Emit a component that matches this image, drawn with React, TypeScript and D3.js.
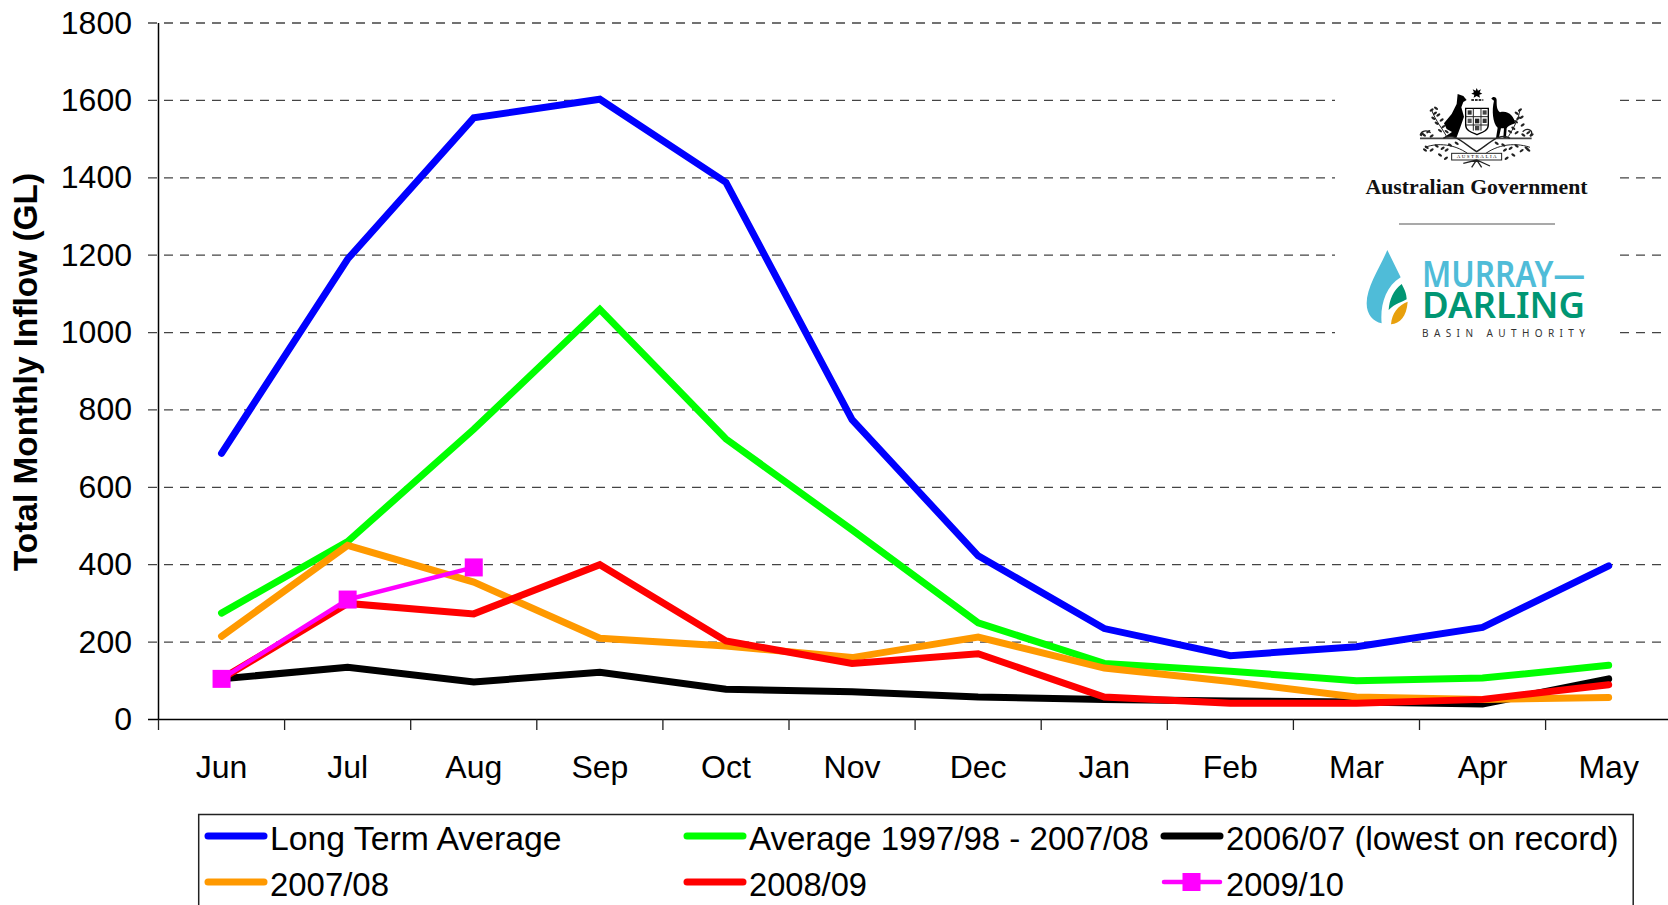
import React from 'react';
import * as d3 from 'd3';

const months = ['Jun','Jul','Aug','Sep','Oct','Nov','Dec','Jan','Feb','Mar','Apr','May'];
const yTicks = [0,200,400,600,800,1000,1200,1400,1600,1800];
const longTerm = [688,1190,1555,1603,1388,775,423,235,165,188,238,397];
const avg9708 = [275,460,750,1060,725,490,250,145,125,100,107,140];
const y0607 = [105,135,97,122,78,72,58,52,48,45,40,105];
const y0708 = [215,450,355,210,190,160,213,133,98,58,52,57];
const y0809 = [105,300,273,400,203,145,170,58,42,42,52,90];
const y0910 = [105,310,393];

const BLUE='#0000ff', GREEN='#00ff00', BLACK='#000000', ORANGE='#ff9900', RED='#ff0000', MAGENTA='#ff00ff';
const FONT = '"Liberation Sans", Arial, sans-serif';

const leavesLeft = [[395,150],[408,145],[415,165],[400,175],[425,180],[410,190],[430,200],[420,212],[385,215],[372,225],[395,228],[380,262],[395,270],[410,258],[428,265],[420,285],[438,295],[450,255],[405,160],[440,215],[365,222],[375,270],[440,270],[470,250]];
const leavesRight = [[660,150],[650,160],[665,172],[648,185],[668,195],[640,205],[685,218],[670,225],[650,218],[680,265],[665,272],[650,258],[632,265],[640,285],[620,295],[610,255],[655,175],[630,215],[695,225],[685,270],[615,270],[590,250]];

function Crest() {
  return (
    <g transform="translate(1300,60) scale(0.3333)">
      <path d="M530,84 L534,92 L543,88 L539,97 L547,101 L538,104 L540,113 L530,108 L521,113 L523,104 L514,101 L522,97 L518,88 L527,92 Z" fill="#000" />
      <path d="M514,120 H550" stroke="#333" strokeWidth={6} strokeDasharray="8 3" />
      <path d="M473,102 L490,108 L500,120 L490,126 L484,142 L492,170 L480,205 L470,232 L430,233 L456,216 L440,207 L432,190 L455,162 L470,132 Z" fill="#000" />
      <path d="M574,116 C578,108 590,110 590,120 C590,135 590,150 600,157 C625,150 642,170 646,190 C630,195 622,200 620,205 L618,232 L628,234 L610,235 L612,205 L603,205 L597,232 L605,235 L588,235 L593,203 C578,190 575,150 582,122 Z" fill="#000" />
      <path d="M497,145 H565 V195 C565,212 545,218 531,224 C517,218 497,212 497,195 Z" fill="#fff" stroke="#000" strokeWidth={4} />
      <path d="M497,170 H565 M497,195 H565 M520,145 V212 M543,145 V212" stroke="#222" strokeWidth={3} />
      <rect x={503} y={151} width={12} height={13} fill="#333" /><rect x={548} y={151} width={12} height={13} fill="#444" />
      <rect x={525} y={176} width={13} height={14} fill="#222" /><rect x={503} y={176} width={12} height={13} fill="#555" />
      <rect x={548} y={176} width={12} height={13} fill="#333" /><rect x={525} y={198} width={13} height={13} fill="#444" />
      <path d="M360,235 H695" stroke="#444" strokeWidth={5} />
      <path d="M365,228 C355,220 375,205 392,218 M690,228 C705,215 685,200 668,215" fill="none" stroke="#222" strokeWidth={4} />
      <path d="M430,235 C460,215 490,250 530,275 C570,250 600,215 630,235" fill="none" stroke="#222" strokeWidth={4} />
      <path d="M375,262 C420,245 480,255 520,295 M690,262 C640,245 580,255 540,295 M395,150 C405,180 430,210 440,230 M660,150 C655,180 640,205 625,230" fill="none" stroke="#222" strokeWidth={3} />
      {[...leavesLeft, ...leavesRight].map(([x, y], i) => (
        <ellipse key={i} cx={x} cy={y} rx={7} ry={3.5} fill="#222" transform={`rotate(${i % 2 ? 35 : -35} ${x} ${y})`} />
      ))}
      <rect x={455} y={280} width={150} height={20} fill="#fff" stroke="#222" strokeWidth={3} />
      <text x={530} y={295} textAnchor="middle" fontFamily='"Liberation Serif", serif' fontSize={15} fill="#000" textLength={120}>AUSTRALIA</text>
      <path d="M490,310 L530,300 L570,318 M530,300 L515,322 M530,300 L545,322" fill="none" stroke="#222" strokeWidth={4} />
    </g>
  );
}

function MdbaDrop() {
  return (
    <g transform="translate(1300,60) scale(0.3333)">
      <path d="M262,570 C240,622 200,680 200,730 C200,765 220,785 245,790 C240,740 255,680 302,652 Z" fill="#4fbcd8" />
      <path d="M305,672 C280,690 268,720 266,750 C285,730 310,725 320,718 C320,700 312,685 305,672 Z" fill="#009673" />
      <path d="M323,725 C295,735 275,760 273,793 C300,790 320,770 323,725 Z" fill="#e8a00c" />
    </g>
  );
}

export default function App() {
  const W = 1668, H = 905;
  const left = 158.5, step = 126.1;
  const x = d3.scaleBand<string>().domain(months).range([left, left + step * months.length]);
  const y = d3.scaleLinear().domain([0, 1800]).range([719.5, 23]);
  const cx = (i: number) => (x(months[i]) as number) + x.bandwidth() / 2;
  const line = d3.line<number>().x((_, i) => cx(i)).y(d => y(d));
  const boundaries = d3.range(months.length + 1).map(i => left + i * x.step());

  const series: [number[], string, number][] = [
    [longTerm, BLUE, 7], [avg9708, GREEN, 7], [y0607, BLACK, 7],
    [y0708, ORANGE, 7], [y0809, RED, 7], [y0910, MAGENTA, 4.5],
  ];
  const legend: [string, string, number, number, number][] = [
    ['Long Term Average', BLUE, 205, 836, 291.5],
    ['Average 1997/98 - 2007/08', GREEN, 684, 836, 400],
    ['2006/07 (lowest on record)', BLACK, 1161, 836, 392.5],
    ['2007/08', ORANGE, 205, 882, 119],
    ['2008/09', RED, 684, 882, 118],
    ['2009/10', MAGENTA, 1161, 882, 118],
  ];

  return (
    <svg width={W} height={H} viewBox={`0 0 ${W} ${H}`} style={{ position: 'absolute', left: 0, top: 0, display: 'block', background: '#fff' }}>
      {yTicks.filter(t => t > 0).map(t => (
        <line key={t} x1={148} x2={W} y1={y(t)} y2={y(t)} stroke="#444" strokeWidth={1.3} strokeDasharray="9 7" />
      ))}
      <rect x={1335} y={85} width={283} height={265} fill="#fff" />
      <Crest />
      <text x={1476.5} y={193.5} textAnchor="middle" fontFamily='"Liberation Serif", serif' fontWeight="bold" fontSize={21} textLength={222} lengthAdjust="spacingAndGlyphs" fill="#111">Australian Government</text>
      <line x1={1399} x2={1555} y1={224} y2={224} stroke="#555" strokeWidth={1.2} />
      <MdbaDrop />
      <text fontFamily='"Noto Sans", Lato, sans-serif' fontWeight="600" fontSize={36}>
        <tspan x={1422} y={287} textLength={163} lengthAdjust="spacingAndGlyphs" fill="#4fbcd8">MURRAY—</tspan>
        <tspan x={1422} y={318} textLength={163} lengthAdjust="spacingAndGlyphs" fill="#009673">DARLING</tspan>
      </text>
      <text x={1422} y={337} fontFamily='"Noto Sans", sans-serif' fontSize={10} textLength={163} fill="#333">BASIN AUTHORITY</text>

      <line x1={left} x2={left} y1={y(1800)} y2={y(0)} stroke="#000" strokeWidth={1.5} />
      <line x1={148} x2={W} y1={y(0)} y2={y(0)} stroke="#000" strokeWidth={1.5} />
      {boundaries.map(b => <line key={b} x1={b} x2={b} y1={y(0)} y2={730} stroke="#222" strokeWidth={1.3} />)}

      {yTicks.map(t => (
        <text key={t} x={132} y={y(t) + 10.5} textAnchor="end" fontFamily={FONT} fontSize={32} fill="#000">{t}</text>
      ))}
      {months.map((m, i) => (
        <text key={m} x={cx(i)} y={778} textAnchor="middle" fontFamily={FONT} fontSize={32} fill="#000">{m}</text>
      ))}
      <text transform="translate(37,372) rotate(-90)" textAnchor="middle" fontFamily={FONT} fontWeight="bold" fontSize={33.4} fill="#000">Total Monthly Inflow (GL)</text>

      {series.map(([vals, color, w], k) => (
        <path key={k} d={line(vals) as string} fill="none" stroke={color} strokeWidth={w} strokeLinecap="round" strokeLinejoin="miter" />
      ))}
      {y0910.map((v, i) => (
        <rect key={i} x={cx(i) - 9} y={y(v) - 9} width={18} height={18} fill={MAGENTA} />
      ))}

      <rect x={198.7} y={814.5} width={1434.5} height={110} fill="none" stroke="#222" strokeWidth={1.5} />
      {legend.map(([label, color, lx, ly, tw]) => (
        <g key={label}>
          <line x1={lx + 3} x2={lx + 59} y1={ly} y2={ly} stroke={color} strokeWidth={color === MAGENTA ? 4.5 : 7} strokeLinecap="round" />
          {color === MAGENTA && <rect x={lx + 21.5} y={ly - 9} width={18} height={18} fill={MAGENTA} />}
          <text x={lx + 65} y={ly + 13.5} fontFamily={FONT} fontSize={33.5} textLength={tw} lengthAdjust="spacingAndGlyphs" fill="#000">{label}</text>
        </g>
      ))}
    </svg>
  );
}
